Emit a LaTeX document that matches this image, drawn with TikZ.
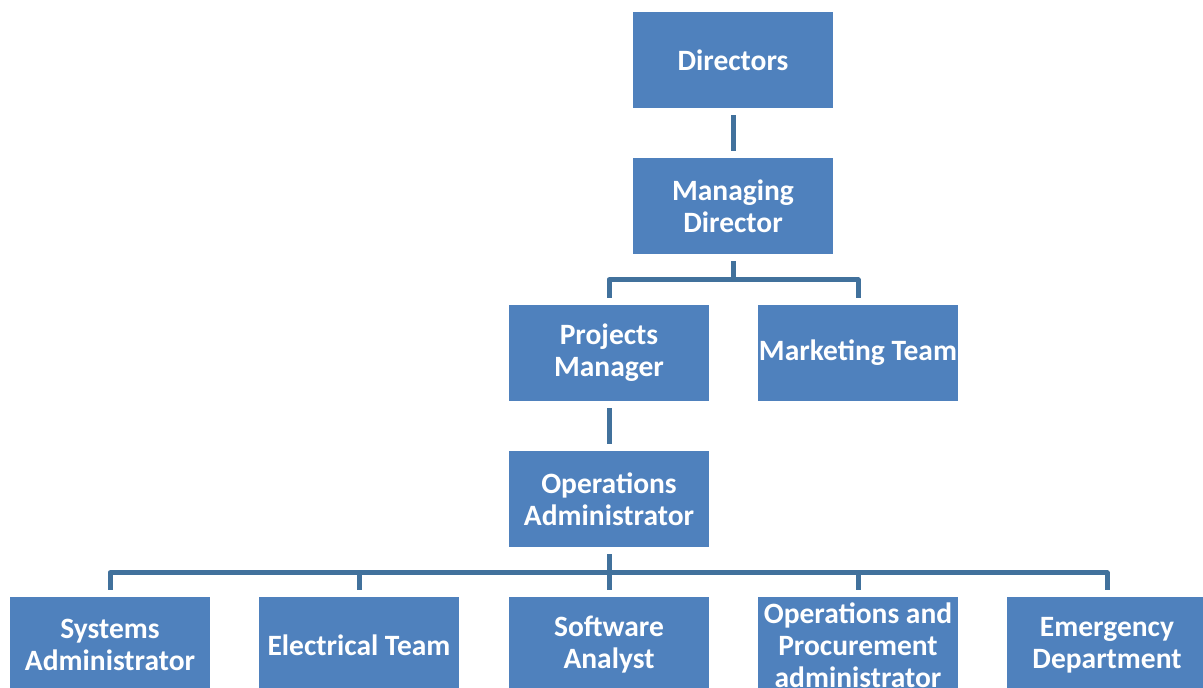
\documentclass[tikz,border=0pt]{standalone}
\usepackage{fontspec}
\setmainfont{Carlito}
\definecolor{boxblue}{HTML}{4F81BD}
\definecolor{linkblue}{HTML}{41719C}
\begin{document}
\begin{tikzpicture}[x=1pt,y=-1pt,
  orgbox/.style={fill=boxblue, draw=none, minimum width=200pt, minimum height=96pt,
    inner sep=0pt, text=white, align=center,
    font=\fontsize{29.5}{32}\selectfont\bfseries},
  conn/.style={draw=linkblue, line width=5pt, line join=round, line cap=butt}]
\useasboundingbox (0,0) rectangle (1203,688);
\clip (0,0) rectangle (1203,688);
\node[orgbox] (dir) at (733,60) {Directors};
\node[orgbox] (md) at (733,206) {Managing\\Director};
\node[orgbox] (pm) at (609,353) {Projects\\Manager};
\node[orgbox] (mkt) at (858,353) {Marketing Team};
\node[orgbox] (oa) at (609,499) {Operations\\Administrator};
\node[orgbox] (sa) at (110,645) {Systems\\Administrator};
\node[orgbox] (el) at (359,645) {Electrical Team};
\node[orgbox] (sw) at (609,645) {Software\\Analyst};
\node[orgbox] (opa) at (858,645) {Operations and\\Procurement\\administrator};
\node[orgbox] (em) at (1107,645) {Emergency\\Department};
\draw[conn] ([yshift=-7pt]dir.south) -- ([yshift=7pt]md.north);
\draw[conn] ([yshift=-7pt]pm.south) -- ([yshift=7pt]oa.north);
\foreach \c in {pm,mkt}
  \draw[conn] ([yshift=-7pt]md.south) |- ([yshift=25pt]\c.north) -- ([yshift=7pt]\c.north);
\foreach \c in {sa,el,sw,opa,em}
  \draw[conn] ([yshift=-7pt]oa.south) |- ([yshift=24pt]\c.north) -- ([yshift=7pt]\c.north);
\end{tikzpicture}
\end{document}
